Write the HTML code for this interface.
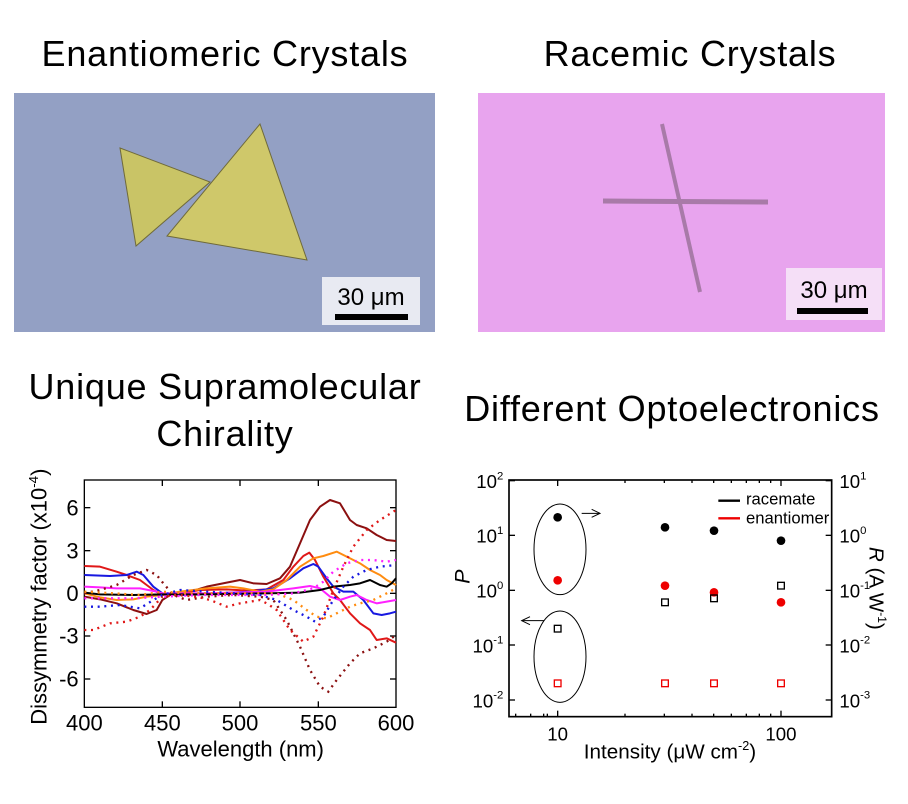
<!DOCTYPE html>
<html><head><meta charset="utf-8"><style>
html,body{margin:0;padding:0;background:#fff;}
svg{display:block;font-family:"Liberation Sans",Arial,sans-serif;}
</style></head><body>
<svg width="908" height="804" viewBox="0 0 908 804" xmlns="http://www.w3.org/2000/svg">
<rect width="908" height="804" fill="#fff"/>
<g font-size="36" letter-spacing="0.8" text-anchor="middle">
<text x="225" y="66">Enantiomeric Crystals</text>
<text x="690" y="66">Racemic Crystals</text>
<text x="225" y="399">Unique Supramolecular</text>
<text x="225" y="446">Chirality</text>
<text x="672" y="421">Different Optoelectronics</text>
</g>

<!-- left photo -->
<rect x="14" y="93" width="421" height="239" fill="#93a0c4"/>
<polygon points="120,148 210,182 136,246" fill="#c9c466" stroke="#6f6a3a" stroke-width="1"/>
<polygon points="260,124 307,260 167,236" fill="#cfc86a" stroke="#6f6a3a" stroke-width="1"/>
<rect x="322" y="277" width="98" height="48" fill="#e8eaf2"/>
<text x="371" y="305" font-size="24" text-anchor="middle">30 μm</text>
<rect x="335" y="314" width="73" height="6" fill="#000"/>

<!-- right photo -->
<rect x="478" y="93" width="407" height="239" fill="#e8a4ee"/>
<line x1="662" y1="124" x2="700" y2="292" stroke="#a87aa8" stroke-width="4"/>
<line x1="603" y1="201" x2="768" y2="202" stroke="#a87aa8" stroke-width="5"/>
<rect x="786" y="268" width="96" height="52" fill="#f5dff7"/>
<text x="834" y="298" font-size="24" text-anchor="middle">30 μm</text>
<rect x="797" y="308" width="71" height="6" fill="#000"/>

<!-- left chart, in 3x zoom coords -->
<g transform="translate(0,460) scale(0.3333333)">
<rect x="253" y="60" width="935" height="682" fill="none" stroke="#000" stroke-width="4"/>
<g stroke="#000" stroke-width="4">
<line x1="487" y1="742" x2="487" y2="724"/><line x1="720" y1="742" x2="720" y2="724"/><line x1="955" y1="742" x2="955" y2="724"/>
<line x1="487" y1="60" x2="487" y2="78"/><line x1="720" y1="60" x2="720" y2="78"/><line x1="955" y1="60" x2="955" y2="78"/>
<line x1="253" y1="143" x2="271" y2="143"/><line x1="253" y1="272" x2="271" y2="272"/><line x1="253" y1="400" x2="271" y2="400"/><line x1="253" y1="528" x2="271" y2="528"/><line x1="253" y1="657" x2="271" y2="657"/>
<line x1="1188" y1="143" x2="1170" y2="143"/><line x1="1188" y1="272" x2="1170" y2="272"/><line x1="1188" y1="400" x2="1170" y2="400"/><line x1="1188" y1="528" x2="1170" y2="528"/><line x1="1188" y1="657" x2="1170" y2="657"/>
</g>
<g fill="none" stroke-width="6" stroke-linejoin="round">
<polyline stroke="#8b1010" points="253,410 300,418 350,430 400,450 440,462 470,450 487,420 510,405 560,398 620,380 680,368 720,360 760,370 800,372 840,355 870,320 900,250 930,180 960,140 990,120 1020,130 1050,180 1070,195 1100,205 1130,225 1160,240 1188,243"/>
<polyline stroke="#e01818" points="253,318 300,320 350,335 380,345 420,360 460,390 487,405 540,400 600,390 680,388 740,392 800,388 850,360 880,320 910,288 928,278 945,300 970,350 1000,400 1020,420 1050,460 1080,490 1110,510 1130,540 1160,535 1188,548"/>
<polyline stroke="#1818e0" points="253,345 330,348 380,345 410,335 430,345 460,380 487,400 550,405 650,400 750,395 820,385 870,355 910,325 940,312 955,320 980,355 1000,380 1030,395 1060,395 1090,420 1120,460 1145,465 1170,460 1188,455"/>
<polyline stroke="#ff8c10" points="253,400 300,412 350,420 400,418 440,410 487,405 540,395 620,385 690,380 730,385 780,395 820,388 860,360 900,320 940,295 970,288 1010,275 1040,290 1080,310 1110,330 1140,345 1160,360 1188,375"/>
<polyline stroke="#ff20ff" points="253,380 300,382 350,385 420,385 470,395 487,400 600,400 700,398 800,395 880,385 930,378 960,385 990,410 1020,420 1050,410 1070,405 1100,420 1130,430 1160,425 1188,420"/>
<polyline stroke="#000" points="253,398 300,403 400,405 487,403 600,403 800,400 900,398 960,390 1000,380 1050,375 1080,370 1110,360 1140,375 1160,380 1175,370 1188,355"/>
</g>
<g fill="none" stroke-width="7" stroke-dasharray="6,14">
<polyline stroke="#8b1010" points="253,400 300,390 350,375 400,345 440,330 470,345 490,370 520,405 560,420 620,410 700,405 780,410 820,420 860,480 900,560 930,630 960,680 985,695 1010,660 1050,610 1080,580 1120,565 1160,545 1188,525"/>
<polyline stroke="#e01818" points="253,510 280,510 330,490 380,485 420,470 450,450 487,410 530,405 590,410 630,420 680,440 720,430 780,420 800,430 830,450 870,510 910,545 940,530 970,470 1000,390 1030,320 1060,260 1100,210 1140,180 1188,150"/>
<polyline stroke="#1818e0" points="253,440 300,440 360,435 420,445 460,420 487,405 540,390 620,395 700,400 780,405 830,420 880,450 920,470 945,485 970,470 1000,420 1030,380 1060,350 1100,330 1140,320 1188,315"/>
<polyline stroke="#ff8c10" points="253,395 340,400 420,405 487,395 560,400 650,400 750,400 830,400 880,420 920,450 950,470 980,475 1010,460 1050,440 1080,430 1120,420 1160,400 1188,385"/>
<polyline stroke="#ff20ff" points="253,415 320,415 400,415 487,410 600,405 700,405 800,405 880,400 940,385 970,365 1000,335 1040,310 1080,300 1120,300 1160,305 1188,300"/>
</g>
<g font-size="66" text-anchor="end">
<text x="236" y="166">6</text><text x="236" y="295">3</text><text x="236" y="423">0</text><text x="236" y="551">-3</text><text x="236" y="680">-6</text>
</g>
<g font-size="66" text-anchor="middle">
<text x="253" y="812">400</text><text x="487" y="812">450</text><text x="720" y="812">500</text><text x="955" y="812">550</text><text x="1188" y="812">600</text>
</g>
<text x="722" y="890" font-size="66" text-anchor="middle">Wavelength (nm)</text>
<text transform="translate(140,410) rotate(-90)" font-size="66" text-anchor="middle">Dissymmetry factor (x10<tspan font-size="40" dy="-26">-4</tspan><tspan dy="26">)</tspan></text>
</g>

<!-- right chart -->
<g transform="translate(450,460) scale(0.3333333)">
<rect x="177" y="60" width="968" height="710" fill="none" stroke="#000" stroke-width="5"/>
<g stroke="#000" stroke-width="4">
<line x1="323" y1="770" x2="323" y2="752"/><line x1="993" y1="770" x2="993" y2="752"/>
<line x1="323" y1="60" x2="323" y2="78"/><line x1="993" y1="60" x2="993" y2="78"/>
<line x1="197" y1="770" x2="197" y2="761"/><line x1="242" y1="770" x2="242" y2="761"/><line x1="281" y1="770" x2="281" y2="761"/><line x1="292" y1="770" x2="292" y2="761"/>
<line x1="525" y1="770" x2="525" y2="761"/><line x1="643" y1="770" x2="643" y2="761"/><line x1="726" y1="770" x2="726" y2="761"/><line x1="791" y1="770" x2="791" y2="761"/><line x1="844" y1="770" x2="844" y2="761"/><line x1="889" y1="770" x2="889" y2="761"/><line x1="928" y1="770" x2="928" y2="761"/><line x1="962" y1="770" x2="962" y2="761"/>
<line x1="525" y1="60" x2="525" y2="69"/><line x1="643" y1="60" x2="643" y2="69"/><line x1="726" y1="60" x2="726" y2="69"/><line x1="791" y1="60" x2="791" y2="69"/><line x1="844" y1="60" x2="844" y2="69"/><line x1="889" y1="60" x2="889" y2="69"/><line x1="928" y1="60" x2="928" y2="69"/><line x1="962" y1="60" x2="962" y2="69"/>
<line x1="177" y1="62" x2="195" y2="62"/><line x1="177" y1="226" x2="195" y2="226"/><line x1="177" y1="391" x2="195" y2="391"/><line x1="177" y1="555" x2="195" y2="555"/><line x1="177" y1="720" x2="195" y2="720"/>
<line x1="1145" y1="62" x2="1127" y2="62"/><line x1="1145" y1="226" x2="1127" y2="226"/><line x1="1145" y1="391" x2="1127" y2="391"/><line x1="1145" y1="555" x2="1127" y2="555"/><line x1="1145" y1="720" x2="1127" y2="720"/>
</g>
<g font-size="56" text-anchor="end">
<text x="160" y="84">10<tspan font-size="34" dy="-26">2</tspan></text>
<text x="160" y="248">10<tspan font-size="34" dy="-26">1</tspan></text>
<text x="160" y="413">10<tspan font-size="34" dy="-26">0</tspan></text>
<text x="160" y="577">10<tspan font-size="34" dy="-26">-1</tspan></text>
<text x="160" y="742">10<tspan font-size="34" dy="-26">-2</tspan></text>
</g>
<g font-size="56">
<text x="1168" y="84">10<tspan font-size="34" dy="-26">1</tspan></text>
<text x="1168" y="248">10<tspan font-size="34" dy="-26">0</tspan></text>
<text x="1168" y="413">10<tspan font-size="34" dy="-26">-1</tspan></text>
<text x="1168" y="577">10<tspan font-size="34" dy="-26">-2</tspan></text>
<text x="1168" y="742">10<tspan font-size="34" dy="-26">-3</tspan></text>
</g>
<g font-size="56" text-anchor="middle"><text x="323" y="842">10</text><text x="993" y="842">100</text></g>
<text x="660" y="896" font-size="62" text-anchor="middle">Intensity (μW cm<tspan font-size="38" dy="-26">-2</tspan><tspan dy="26">)</tspan></text>
<text transform="translate(58,350) rotate(-90)" font-size="64" font-style="italic" text-anchor="middle">P</text>
<text transform="translate(1258,385) rotate(90)" font-size="62" text-anchor="middle"><tspan font-style="italic">R</tspan> (A W<tspan font-size="36" dy="-26">-1</tspan><tspan dy="26">)</tspan></text>
<line x1="805" y1="122" x2="870" y2="122" stroke="#000" stroke-width="7"/>
<text x="888" y="134" font-size="50">racemate</text>
<line x1="805" y1="175" x2="870" y2="175" stroke="#e00" stroke-width="7"/>
<text x="888" y="191" font-size="50">enantiomer</text>
<ellipse cx="330" cy="268" rx="78" ry="136" fill="none" stroke="#000" stroke-width="3"/>
<ellipse cx="330" cy="590" rx="78" ry="137" fill="none" stroke="#000" stroke-width="3"/>
<g stroke="#000" stroke-width="3" fill="none">
<line x1="395" y1="160" x2="450" y2="160"/><polyline points="425,148 450,160 425,172"/>
<line x1="282" y1="482" x2="215" y2="482"/><polyline points="240,470 215,482 240,494"/>
</g>
<g fill="#000"><circle cx="323" cy="172" r="13"/><circle cx="645" cy="202" r="13"/><circle cx="792" cy="212" r="13"/><circle cx="993" cy="242" r="13"/></g>
<g fill="#e00"><circle cx="323" cy="361" r="13"/><circle cx="645" cy="377" r="13"/><circle cx="792" cy="397" r="13"/><circle cx="993" cy="427" r="13"/></g>
<g fill="none" stroke="#000" stroke-width="4"><rect x="313" y="496" width="20" height="20"/><rect x="635" y="417" width="20" height="20"/><rect x="782" y="405" width="20" height="20"/><rect x="983" y="367" width="20" height="20"/></g>
<g fill="none" stroke="#e00" stroke-width="4"><rect x="313" y="660" width="20" height="20"/><rect x="635" y="660" width="20" height="20"/><rect x="782" y="660" width="20" height="20"/><rect x="983" y="660" width="20" height="20"/></g>
</g>
</svg>
</body></html>
